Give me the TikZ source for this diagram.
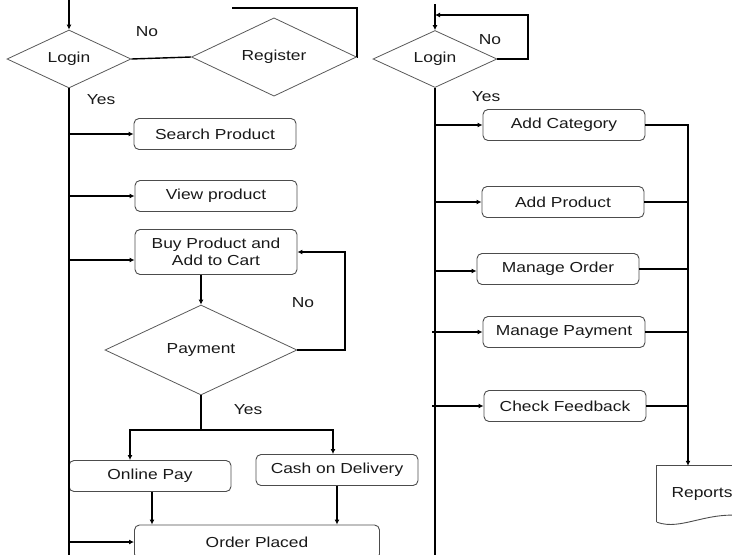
\documentclass[tikz,border=0pt]{standalone}
\usepackage{fontspec}
\setmainfont{Liberation Sans}[FakeStretch=1.2]
\usetikzlibrary{shapes.geometric,arrows.meta}
\tikzset{
  box/.style={draw=black!70, line width=0.9pt, rounded corners=5pt, minimum width=162pt, minimum height=31pt, inner sep=2pt, align=center, font=\fontsize{14.5}{17}\selectfont, text=black!90},
  dia/.style={diamond, draw=black!65, line width=0.8pt, inner sep=0pt, font=\fontsize{14.5}{17}\selectfont, text=black!90},
  lab/.style={font=\fontsize{14.5}{17}\selectfont, text=black!90},
  con/.style={line width=1.4pt, black},
  arr/.style={con, -{Latex[length=5pt,width=5pt]}},
}
\begin{document}
\begin{tikzpicture}[x=1pt,y=-1pt]
\useasboundingbox (0,0) rectangle (732,555);
% ---------- left side ----------
\node[dia, minimum width=124pt, minimum height=58pt] (login1) at (69,59) {Login};
\node[dia, minimum width=165pt, minimum height=71pt] (reg) at (274,57) {Register};
\node[box] (search) at (215,134) {Search Product};
\node[box] (view) at (216,196) {View product};
\node[box, minimum height=45pt] (buy) at (216,252) {Buy Product and\\Add to Cart};
\node[dia, minimum width=192pt, minimum height=90pt] (pay) at (201,350) {Payment};
\node[box] (online) at (150,476) {Online Pay};
\node[box] (cash) at (337,470) {Cash on Delivery};
\node[box, minimum width=245pt, minimum height=34pt] (order) at (257,542) {Order Placed};
\node[lab] (no1) at (147,32) {No};
\node[lab] (yes1) at (101,100) {Yes};
\node[lab] (no2) at (303,303) {No};
\node[lab] (yes2) at (248,410) {Yes};
\coordinate (lt) at (69,0);
\coordinate (lbot) at (69,556);
\coordinate (regc) at (357,8);
\coordinate (regtop) at (232,8);
\coordinate (nor) at (345,352);
\coordinate (split) at (201,430);
\coordinate (onl) at (130,430);
\coordinate (csh) at (333,430);
\draw[arr] (lt) -- (login1.north);
\draw[con] (login1.east) -- (reg.west);
\draw[con] (reg.east) -| (regc) -- (regtop);
\draw[con] (login1.south) -- (lbot);
\draw[arr] (login1.south |- search.west) -- (search.west);
\draw[arr] (login1.south |- view.west) -- (view.west);
\draw[arr] ([yshift=-8pt]login1.south |- buy.west) -- ([yshift=-8pt]buy.west);
\draw[arr] (pay.north |- buy.south) -- (pay.north);
\draw[arr] (pay.east) -- (pay.east -| nor) |- (buy.east);
\draw[con] (pay.south) -- (split);
\draw[arr] (split) -- (onl) -- (onl |- online.north);
\draw[arr] (split) -- (csh) -- (csh |- cash.north);
\draw[arr] ([xshift=2pt]online.south) -- ([xshift=2pt]online.south |- order.north);
\draw[arr] (cash.south) -- (cash.south |- order.north);
\draw[arr] (login1.south |- order.west) -- (order.west);
% ---------- right side ----------
\node[dia, minimum width=124pt, minimum height=57pt] (login2) at (435,59) {Login};
\node[box] (addcat) at (564,125) {Add Category};
\node[box] (addprod) at (563,202) {Add Product};
\node[box] (morder) at (558,269) {Manage Order};
\node[box] (mpay) at (564,332) {Manage Payment};
\node[box] (feed) at (565,406) {Check Feedback};
\node[lab] (no3) at (490,40) {No};
\node[lab] (yes3) at (486,97) {Yes};
\node[lab, minimum width=90pt, minimum height=56pt, inner sep=0pt] (reports) at (702,494) {Reports};
\draw[black!70, line width=0.9pt] (reports.south west) -- (reports.north west) -- (reports.north east);
\draw[black!70, line width=0.9pt] (reports.south west) .. controls ([xshift=25pt,yshift=-9pt]reports.south west) and ([xshift=50pt,yshift=12pt]reports.south west) .. ([xshift=90pt,yshift=6pt]reports.south west);
\coordinate (rt) at (435,4);
\coordinate (rj) at (435,15);
\coordinate (rc) at (528,15);
\coordinate (rbot) at (435,556);
\coordinate (bus) at (688,125);
\draw[arr] (rt) -- (login2.north);
\draw[arr] (login2.east) -| (rc) -- (rj);
\draw[con] (login2.south) -- (rbot);
\draw[arr] (login2.south |- addcat.west) -- (addcat.west);
\draw[arr] (login2.south |- addprod.west) -- (addprod.west);
\draw[arr] ([yshift=-2pt]login2.south |- morder.west) -- ([yshift=-2pt]morder.west);
\draw[arr] ([xshift=-3pt]login2.south |- mpay.west) -- (mpay.west);
\draw[arr] ([xshift=-3pt]login2.south |- feed.west) -- (feed.west);
\draw[arr] (addcat.east) -| (bus |- reports.north);
\draw[con] (addprod.east) -- (addprod.east -| bus);
\draw[con] (morder.east) -- (morder.east -| bus);
\draw[con] (mpay.east) -- (mpay.east -| bus);
\draw[con] (feed.east) -- (feed.east -| bus);
\end{tikzpicture}
\end{document}
